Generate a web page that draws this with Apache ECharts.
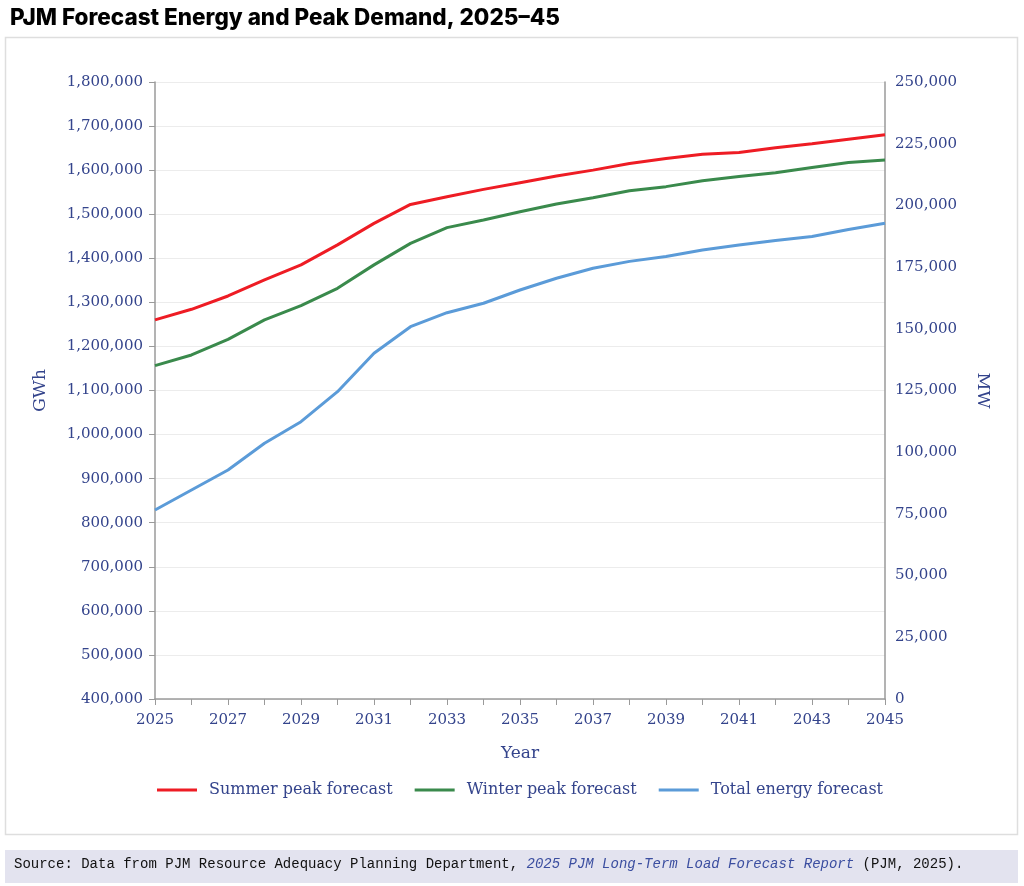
<!DOCTYPE html>
<html>
<head>
<meta charset="utf-8">
<title>PJM Forecast Energy and Peak Demand, 2025–45</title>
<script src="https://cdn.jsdelivr.net/npm/echarts@6/dist/echarts.min.js"></script>
<style>
    html, body { margin: 0; padding: 0; background: #fff; }
    #chart { width: 1024px; height: 886px; }
</style>
</head>
<body>
<div id="chart"></div>
<script>
// years on the x axis
var years = ['2025', '2026', '2027', '2028', '2029', '2030', '2031', '2032', '2033', '2034', '2035',
    '2036', '2037', '2038', '2039', '2040', '2041', '2042', '2043', '2044', '2045'];
// peak forecasts, MW (right axis)
var summerPeak = [153600, 157900, 163300, 169800, 175900, 184000, 192700, 200400, 203500, 206500, 209200,
    211900, 214300, 217000, 219000, 220700, 221400, 223400, 225000, 226800, 228600];
var winterPeak = [135100, 139400, 145700, 153600, 159400, 166400, 175900, 184600, 191000, 194100, 197400,
    200600, 203100, 205900, 207600, 210000, 211700, 213200, 215400, 217400, 218400];
// total energy forecast, GWh (left axis)
var totalEnergy = [828900, 874200, 919600, 980200, 1029200, 1097300, 1184400, 1244800, 1276500, 1297900, 1328000,
    1354600, 1377300, 1393000, 1404000, 1419000, 1430000, 1440500, 1449500, 1465500, 1479400];

var axisColor = '#34448c';
var serif = 'DejaVu Serif';
var fmt = function (v) { return v.toLocaleString('en-US'); };

var myChart = echarts.init(document.getElementById('chart'));
var option = {
    backgroundColor: '#fff',
    animation: false,
    title: {
        text: 'PJM Forecast Energy and Peak Demand, 2025\u201345',
        left: 5,
        top: 2,
        textStyle: { fontFamily: 'Inter', fontWeight: 800, fontSize: 22.5, color: '#000' }
    },
    graphic: [
        {
            type: 'rect', z: -1,
            shape: { x: 5.5, y: 37.5, width: 1012, height: 797 },
            style: { fill: '#fff', stroke: '#dedede', lineWidth: 1.5 }
        },
        {
            type: 'rect', z: -1,
            shape: { x: 5, y: 850, width: 1013, height: 33 },
            style: { fill: '#e3e3ef' }
        },
        {
            type: 'text', left: 14, top: 857,
            style: {
                text: '{a|Source: Data from PJM Resource Adequacy Planning Department, }{b|2025 PJM Long-Term Load Forecast Report}{a| (PJM, 2025).}',
                rich: {
                    a: { fontFamily: 'Liberation Mono', fontSize: 14, fill: '#111' },
                    b: { fontFamily: 'Liberation Mono', fontSize: 14, fontStyle: 'italic', fill: '#3b4ea0' }
                }
            }
        }
    ],
    legend: {
        left: 152,
        top: 777,
        icon: 'rect',
        itemWidth: 40,
        itemHeight: 3,
        itemGap: 22,
        textStyle: { fontFamily: serif, fontSize: 16, color: axisColor, padding: [0, 0, 0, 7] },
        data: ['Summer peak forecast', 'Winter peak forecast', 'Total energy forecast']
    },
    grid: { left: 155, right: 139, top: 82, bottom: 187, containLabel: false },
    xAxis: {
        type: 'category',
        data: years,
        boundaryGap: false,
        name: 'Year',
        nameLocation: 'middle',
        nameGap: 46,
        nameTextStyle: { fontFamily: serif, fontSize: 17, color: axisColor },
        axisLine: { lineStyle: { color: '#9a9a9a', width: 1.5 } },
        axisTick: { interval: 0, length: 6, lineStyle: { color: '#9a9a9a' } },
        axisLabel: { interval: 1, fontFamily: serif, fontSize: 15, color: axisColor, margin: 14 },
        splitLine: { show: false }
    },
    yAxis: [
        {
            type: 'value',
            min: 400000,
            max: 1800000,
            interval: 100000,
            name: 'GWh',
            nameLocation: 'middle',
            nameRotate: 90,
            nameGap: 106,
            nameTextStyle: { fontFamily: serif, fontSize: 17.5, color: axisColor },
            axisLine: { show: true, lineStyle: { color: '#9a9a9a', width: 1.5 } },
            axisTick: { show: true, length: 6, lineStyle: { color: '#9a9a9a' } },
            axisLabel: { fontFamily: serif, fontSize: 15, color: axisColor, margin: 12, formatter: fmt },
            splitLine: { lineStyle: { color: '#ececec', width: 1 } }
        },
        {
            type: 'value',
            min: 0,
            max: 250000,
            interval: 25000,
            name: 'MW',
            nameLocation: 'middle',
            nameRotate: -90,
            nameGap: 89,
            nameTextStyle: { fontFamily: serif, fontSize: 17.5, color: axisColor },
            axisLine: { show: true, lineStyle: { color: '#9a9a9a', width: 1.5 } },
            axisTick: { show: false },
            axisLabel: { fontFamily: serif, fontSize: 15, color: axisColor, margin: 10, formatter: fmt },
            splitLine: { show: false }
        }
    ],
    series: [
        {
            name: 'Summer peak forecast',
            type: 'line',
            yAxisIndex: 1,
            data: summerPeak,
            showSymbol: false,
            lineStyle: { color: '#ee1c24', width: 3 },
            itemStyle: { color: '#ee1c24' }
        },
        {
            name: 'Winter peak forecast',
            type: 'line',
            yAxisIndex: 1,
            data: winterPeak,
            showSymbol: false,
            lineStyle: { color: '#3a8a4c', width: 3 },
            itemStyle: { color: '#3a8a4c' }
        },
        {
            name: 'Total energy forecast',
            type: 'line',
            yAxisIndex: 0,
            data: totalEnergy,
            showSymbol: false,
            lineStyle: { color: '#5b9bd8', width: 3 },
            itemStyle: { color: '#5b9bd8' }
        }
    ]
};
myChart.setOption(option);
</script>
</body>
</html>
